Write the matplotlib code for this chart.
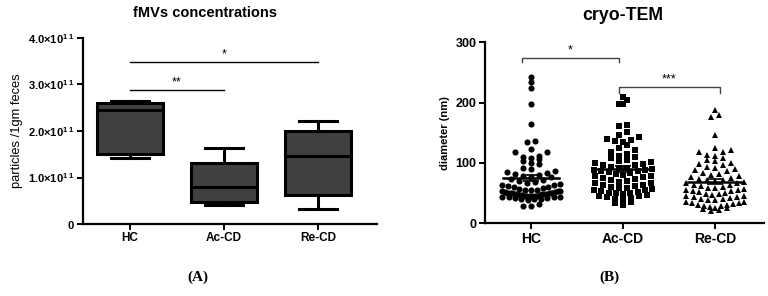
import matplotlib
matplotlib.use('Agg')
from matplotlib import pyplot as plt
import numpy as np

plt.rcParams['font.family'] = ['Liberation Sans', 'DejaVu Sans']
plt.rcParams['mathtext.fontset'] = 'custom'
plt.rcParams['mathtext.rm'] = 'Liberation Sans'
plt.rcParams['mathtext.bf'] = 'Liberation Sans:bold'

# panel A: box plot stats (particles / 1gm feces)
groups = ['HC', 'Ac-CD', 'Re-CD']
box_whislo = [1.42e11, 0.41e11, 0.32e11]
box_q1 = [1.50e11, 0.48e11, 0.62e11]
box_med = [2.45e11, 0.79e11, 1.47e11]
box_q3 = [2.60e11, 1.31e11, 2.00e11]
box_whishi = [2.65e11, 1.64e11, 2.21e11]
a_ticks = [0, 1e11, 2e11, 3e11, 4e11]
a_ticklabels = [r'$\mathbf{0}$', r'$\mathbf{1.0{\times}10^{1\,1}}$',
                r'$\mathbf{2.0{\times}10^{1\,1}}$', r'$\mathbf{3.0{\times}10^{1\,1}}$',
                r'$\mathbf{4.0{\times}10^{1\,1}}$']
a_sig = [(0, 1, 2.87e11, '**'), (0, 2, 3.48e11, '*')]

# panel B: cryo-TEM diameters (nm)
hc_diam = [242, 235, 224, 198, 165, 136, 135, 123, 119, 118, 111, 110, 109, 107,
           104, 100, 98, 92, 90, 86, 85, 84, 82, 80, 78, 77, 76, 74, 72, 70, 68,
           67, 65, 64, 63, 62, 60, 60, 58, 57, 56, 55, 55, 54, 53, 52, 51, 50, 50,
           49, 48, 48, 47, 47, 46, 46, 45, 45, 44, 44, 43, 42, 42, 41, 40, 40, 39,
           32, 28, 28, 45, 48, 50, 52, 44, 46, 47, 49, 51, 53]
ac_diam = [209, 205, 198, 197, 163, 161, 152, 147, 143, 140, 138, 136, 134, 130,
           125, 122, 118, 115, 112, 110, 108, 105, 103, 101, 100, 99, 97, 96, 94,
           92, 91, 90, 89, 88, 87, 86, 85, 84, 82, 80, 79, 78, 76, 75, 73, 72, 70,
           69, 67, 66, 64, 63, 62, 60, 59, 58, 57, 56, 55, 54, 52, 51, 50, 50, 48,
           47, 46, 45, 44, 42, 41, 40, 35, 33, 31]
re_diam = [188, 180, 177, 147, 124, 121, 119, 118, 114, 112, 108, 105, 104, 100,
           98, 96, 94, 92, 90, 88, 86, 84, 82, 80, 78, 76, 75, 74, 72, 71, 70, 68,
           67, 66, 64, 63, 62, 60, 59, 58, 57, 56, 55, 54, 53, 52, 50, 49, 48, 47,
           46, 45, 44, 43, 42, 41, 40, 39, 38, 36, 35, 34, 33, 32, 31, 30, 29, 28,
           27, 26, 25, 24, 22, 20]
b_markers = ['o', 's', '^']
b_sig = [(0, 1, 267, 274, '*'), (1, 2, 216, 226, '***')]


def row_swarm(ax, xc, vals, h, sp0, halfw):
    # graphpad-like layout: points binned in rows, spread sideways in each row
    pts = ax.transData.transform(np.column_stack([np.full(len(vals), xc), vals]))
    x0 = pts[0, 0]
    ys = pts[:, 1]
    rows = np.round((ys - ys.min()) / h).astype(int)
    xs = np.zeros(len(vals))
    for r in np.unique(rows):
        idx = np.where(rows == r)[0]
        k = len(idx)
        if k == 1:
            continue
        sp = sp0 if (k - 1) * sp0 / 2 <= halfw else 2 * halfw / (k - 1)
        idx = idx[np.argsort(ys[idx])]
        offs = (np.arange(k) - (k - 1) / 2) * sp
        order = np.argsort(np.abs(offs), kind='stable')
        xs[idx] = offs[order]
    inv = ax.transData.inverted()
    return inv.transform(np.column_stack([x0 + xs, ys]))[:, 0]


fig = plt.figure(figsize=(7.68, 2.96), dpi=100)

# ---- panel A
ax1 = fig.add_axes([0.108, 0.243, 0.383, 0.629])
stats = []
for i in range(3):
    stats.append(dict(whislo=box_whislo[i], q1=box_q1[i], med=box_med[i],
                      q3=box_q3[i], whishi=box_whishi[i], fliers=[]))
ax1.bxp(stats, positions=range(3), widths=0.7, capwidths=0.4, patch_artist=True,
        showfliers=False,
        boxprops=dict(facecolor='#404040', edgecolor='black', linewidth=2.2),
        medianprops=dict(color='black', linewidth=2.2),
        whiskerprops=dict(color='black', linewidth=2.2),
        capprops=dict(color='black', linewidth=2.2))
ax1.set_xlim(-0.5, 2.63)
ax1.set_ylim(0, 4e11)
ax1.set_yticks(a_ticks)
ax1.set_yticklabels(a_ticklabels, fontsize=8)
ax1.set_xticks(range(3))
ax1.set_xticklabels(groups, fontsize=8.5, fontweight='bold')
ax1.set_ylabel('particles /1gm feces', fontsize=9.3, labelpad=4)
for (i, j, y, s) in a_sig:
    ax1.plot([i, j], [y, y], color='black', linewidth=1)
    ax1.text((i + j) / 2, y + 0.04e11, s, ha='center', va='bottom', fontsize=9)

# ---- panel B
ax2 = fig.add_axes([0.6315, 0.2456, 0.3635, 0.6115])
ax2.set_xlim(-0.5, 2.53)
ax2.set_ylim(0, 300)
for i, vals in enumerate([hc_diam, ac_diam, re_diam]):
    vals = np.array(vals, dtype=float)
    xs = row_swarm(ax2, i, vals, 6.5, 8.0, 29)
    ax2.plot(xs, vals, linestyle='none', marker=b_markers[i], markersize=4.4,
             color='black', markeredgewidth=0)
    m = vals.mean()
    sem = vals.std(ddof=1) / np.sqrt(len(vals))
    ax2.plot([i - 0.3, i + 0.3], [m, m], color='black', linewidth=1.8)
    ax2.errorbar([i], [m], yerr=[sem], color='black', capsize=6, linewidth=1.2,
                 capthick=1.2)
for (i, j, ytip, ytop, s) in b_sig:
    x1 = i - 0.1 if i == 0 else i - 0.05
    x2 = j - 0.05 if j == 1 else j + 0.05
    ax2.plot([x1, x1, x2, x2], [ytip, ytop, ytop, ytip], color='#444444',
             linewidth=1)
    ax2.text((x1 + x2) / 2, ytop + 3, s, ha='center', va='bottom', fontsize=9)
ax2.set_yticks([0, 100, 200, 300])
ax2.set_yticklabels(['0', '100', '200', '300'], fontsize=9, fontweight='bold')
ax2.set_xticks(range(3))
ax2.set_xticklabels(groups, fontsize=10, fontweight='bold')
ax2.set_ylabel('diameter (nm)', fontsize=8, fontweight='bold', labelpad=4)

for ax in [ax1, ax2]:
    ax.spines['top'].set_visible(False)
    ax.spines['right'].set_visible(False)
    ax.spines['left'].set_linewidth(1.6)
    ax.spines['bottom'].set_linewidth(1.6)
    ax.tick_params(direction='out', length=4, width=1.4, pad=2)

fig.text(205 / 768, 1 - 13 / 296, 'fMVs concentrations', ha='center', va='center',
         fontsize=10.5, fontweight='bold')
fig.text(623 / 768, 1 - 16 / 296, 'cryo-TEM', ha='center', va='center',
         fontsize=12.8, fontweight='bold')
fig.text(198 / 768, 1 - 277 / 296, '(A)', ha='center', va='center', fontsize=11,
         fontweight='bold', family='Liberation Serif')
fig.text(609 / 768, 1 - 277 / 296, '(B)', ha='center', va='center', fontsize=11,
         fontweight='bold', family='Liberation Serif')

fig.savefig('out.png', dpi=100)
